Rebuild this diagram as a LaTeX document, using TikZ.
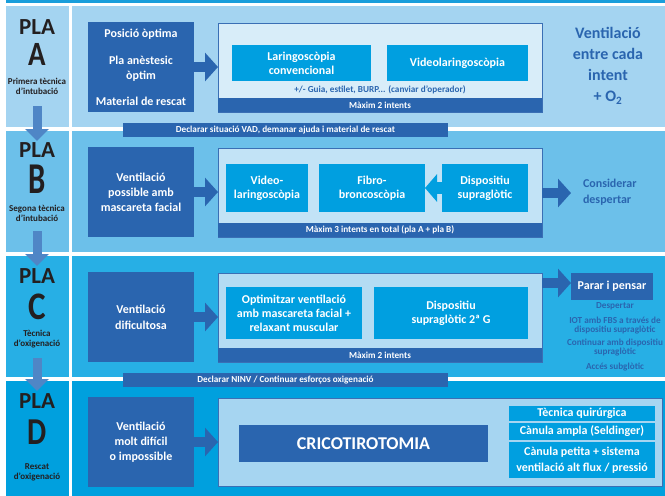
\documentclass[tikz,border=0pt]{standalone}
\usepackage{fontspec}
\usepackage{graphicx}
\setmainfont{Carlito}
\usetikzlibrary{arrows.meta}
\definecolor{dkblue}{HTML}{2A65AF}
\definecolor{cyanbox}{HTML}{009FE0}
\definecolor{topstrip}{HTML}{1A9EDB}
\definecolor{rowA}{HTML}{A4D4F1}
\definecolor{rowB}{HTML}{6CC0EA}
\definecolor{rowC}{HTML}{27AFE5}
\definecolor{rowD}{HTML}{00A0DE}
\definecolor{panelA}{HTML}{D8EDF9}
\definecolor{panelB}{HTML}{C2E3F6}
\definecolor{panelC}{HTML}{B4DCF3}
\definecolor{panelD}{HTML}{A6D5F1}
\definecolor{pborder}{HTML}{3A6FB5}
\definecolor{leftarr}{HTML}{4F86C6}
\definecolor{txtblack}{HTML}{231F20}
\tikzset{
  pla/.style={font=\bfseries\fontsize{23}{23}\selectfont, text=txtblack},
  bigletter/.style={font=\bfseries\fontsize{#1}{#1}\selectfont, text=txtblack},
  subtxt/.style={font=\bfseries\fontsize{9}{10}\selectfont, text=txtblack, align=center},
  darkbox/.style={fill=dkblue, text=white, font=\bfseries\fontsize{12}{15}\selectfont, align=center, minimum width=106pt, minimum height=90pt},
  panel/.style={draw=pborder, line width=0.8pt, minimum width=324pt, minimum height=89pt},
  barbox/.style={fill=dkblue, text=white, font=\bfseries\fontsize{9.2}{10}\selectfont, minimum width=324pt, minimum height=14pt},
  banner/.style={fill=dkblue, text=white, font=\bfseries\fontsize{9.2}{10}\selectfont, minimum width=325pt, minimum height=14pt},
  cbox/.style={fill=cyanbox, text=white, font=\bfseries\fontsize{12}{14}\selectfont, align=center},
  bluetext/.style={text=dkblue, font=\bfseries\fontsize{12}{16}\selectfont},
  notetxt/.style={text=dkblue, font=\bfseries\fontsize{9.2}{10}\selectfont},
  listtxt/.style={text=dkblue, font=\bfseries\fontsize{9.2}{9.2}\selectfont, align=center},
  barrow/.style={draw=dkblue, line width=10pt, -{Triangle[length=13pt,width=28pt]}},
  carrow/.style={draw=cyanbox, line width=12pt, -{Triangle[length=12pt,width=27pt]}},
  larrow/.style={draw=leftarr, line width=9pt, -{Triangle[length=12pt,width=23pt]}},
}
\begin{document}
\begin{tikzpicture}[x=1pt,y=-1pt, every node/.style={outer sep=0pt, inner sep=0pt}]
\useasboundingbox (0,0) rectangle (665,496);
\fill[white] (0,0) rectangle (665,496);
\fill[topstrip] (6,0) rectangle (665,3);
% row backgrounds
\fill[rowA] (6,6) rectangle (69,127);   \fill[rowA] (72,6) rectangle (665,127);
\fill[rowB] (6,131) rectangle (69,252); \fill[rowB] (72,131) rectangle (665,252);
\fill[rowC] (6,256) rectangle (69,377); \fill[rowC] (72,256) rectangle (665,377);
\fill[rowD] (6,381) rectangle (69,496); \fill[rowD] (72,381) rectangle (665,496);

% left column
\node[pla] (plaA) at (37,27.5) {PLA};
\node[bigletter=34] (letA) at (37,54.5) {\scalebox{0.85}[1]{A}};
\node[subtxt] (subA) at (37,86) {Primera tècnica\\d'intubació};
\node[pla] (plaB) at (37,150.5) {PLA};
\node[bigletter=44] (letB) at (37,179.5) {\scalebox{0.7}[1]{B}};
\node[subtxt] (subB) at (37,213.5) {Segona tècnica\\d'intubació};
\node[pla] (plaC) at (37,276.5) {PLA};
\node[bigletter=39] (letC) at (37,306.5) {\scalebox{0.85}[1]{C}};
\node[subtxt] (subC) at (37,339) {Tècnica\\d'oxigenació};
\node[pla] (plaD) at (37,401.5) {PLA};
\node[bigletter=38] (letD) at (37,432) {\scalebox{0.8}[1]{D}};
\node[subtxt] (subD) at (37,472.5) {Rescat\\d'oxigenació};
\coordinate (ab1) at (37,106); \coordinate (ab2) at (37,141);
\coordinate (bc1) at (37,231); \coordinate (bc2) at (37,266);
\coordinate (cd1) at (37,358); \coordinate (cd2) at (37,391);
\draw[larrow] (ab1) -- (ab2);
\draw[larrow] (bc1) -- (bc2);
\draw[larrow] (cd1) -- (cd2);

% ---------- Row A ----------
\node[darkbox] (darkA) at (141,67) {\fontsize{12}{11}\selectfont Posició òptima\\[12pt]Pla anèstesic\\òptim\\[11pt]Material de rescat};
\node[panel, fill=panelA] (panA) at (380,67.5) {};
\node[barbox] (barA) at (380,105) {Màxim 2 intents};
\node[cbox, minimum width=139pt, minimum height=36pt] (laryA) at (301.5,63) {Laringoscòpia\\convencional};
\node[cbox, minimum width=141pt, minimum height=36pt] (videoA) at (457.5,63) {Videolaringoscòpia};
\node[notetxt] (guiaA) at (380,90) {+/- Guia, estilet, BURP... (canviar d'operador)};
\draw[barrow] (darkA.east) -- (darkA.east -| panA.west);
\node[bluetext, align=center, font=\bfseries\fontsize{16}{21}\selectfont] (ventA) at (608,66) {Ventilació\\entre cada\\intent\\+ O\textsubscript{2}};

\node[banner] (ban1) at (285.5,130) {Declarar situació VAD, demanar ajuda i material de rescat};

% ---------- Row B ----------
\node[darkbox] (darkB) at (141,192) {Ventilació\\possible amb\\mascareta facial};
\node[panel, fill=panelB] (panB) at (380,192.5) {};
\node[barbox] (barB) at (380,230) {Màxim 3 intents en total (pla A + pla B)};
\node[cbox, minimum width=82pt, minimum height=48pt] (vidB) at (267,188) {Video-\\laringoscòpia};
\node[cbox, minimum width=106pt, minimum height=48pt] (fibB) at (372,188) {Fibro-\\broncoscòpia};
\node[cbox, minimum width=86pt, minimum height=48pt] (dspB) at (485,188) {Dispositiu\\supraglòtic};
\draw[carrow] (dspB.west) -- (fibB.east);
\draw[barrow] (darkB.east) -- (darkB.east -| panB.west);
\node[bluetext, anchor=west, align=left, font=\bfseries\fontsize{12}{16}\selectfont] (consB) at (583,192) {Considerar\\despertar};
\coordinate (bArr) at (542,193);
\draw[barrow, shorten >=12pt] (bArr) -- (bArr -| consB.west);

% ---------- Row C ----------
\node[darkbox, font=\bfseries\fontsize{12}{16}\selectfont] (darkC) at (141,317) {Ventilació\\dificultosa};
\node[panel, fill=panelC] (panC) at (380,317.5) {};
\node[barbox] (barC) at (380,355) {Màxim 2 intents};
\node[cbox, minimum width=136pt, minimum height=52pt] (optC) at (294,313) {Optimitzar ventilació\\amb mascareta facial +\\relaxant muscular};
\node[cbox, minimum width=154pt, minimum height=52pt] (dspC) at (451,313) {Dispositiu\\supraglòtic 2ª G};
\draw[barrow] (darkC.east) -- (darkC.east -| panC.west);
\node[fill=dkblue, text=white, font=\bfseries\fontsize{12}{14}\selectfont, minimum width=82pt, minimum height=27pt] (parar) at (612,286.5) {Parar i pensar};
\coordinate (cArr) at (542,283);
\draw[barrow] (cArr) -- (cArr -| parar.west);
\node[listtxt, anchor=north] (listC) at (615,303) {Despertar\\[5pt]IOT amb FBS a través de\\dispositiu supraglòtic\\[4pt]Continuar amb dispositiu\\supraglòtic\\[6pt]Accés subglòtic};

\node[banner] (ban2) at (285.5,380) {Declarar NINV / Continuar esforços oxigenació};

% ---------- Row D ----------
\node[darkbox] (darkD) at (141,442) {Ventilació\\molt difícil\\o impossible};
\node[panel, fill=panelD, minimum width=444pt, minimum height=88pt] (panD) at (440,442) {};
\draw[barrow] (darkD.east) -- (darkD.east -| panD.west);
\node[fill=dkblue, text=white, font=\bfseries\fontsize{18}{20}\selectfont, minimum width=249pt, minimum height=37pt] (crico) at (363.5,443.5) {CRICOTIROTOMIA};
\node[cbox, minimum width=146pt, minimum height=15.5pt] (st1) at (582,413.5) {Tècnica quirúrgica};
\node[cbox, minimum width=146pt, minimum height=16.5pt] (st2) at (582,431.5) {Cànula ampla (Seldinger)};
\node[cbox, minimum width=146pt, minimum height=36pt, font=\bfseries\fontsize{12}{15.5}\selectfont] (st3) at (582,460) {Cànula petita + sistema\\ventilació alt flux / pressió};
\end{tikzpicture}
\end{document}
